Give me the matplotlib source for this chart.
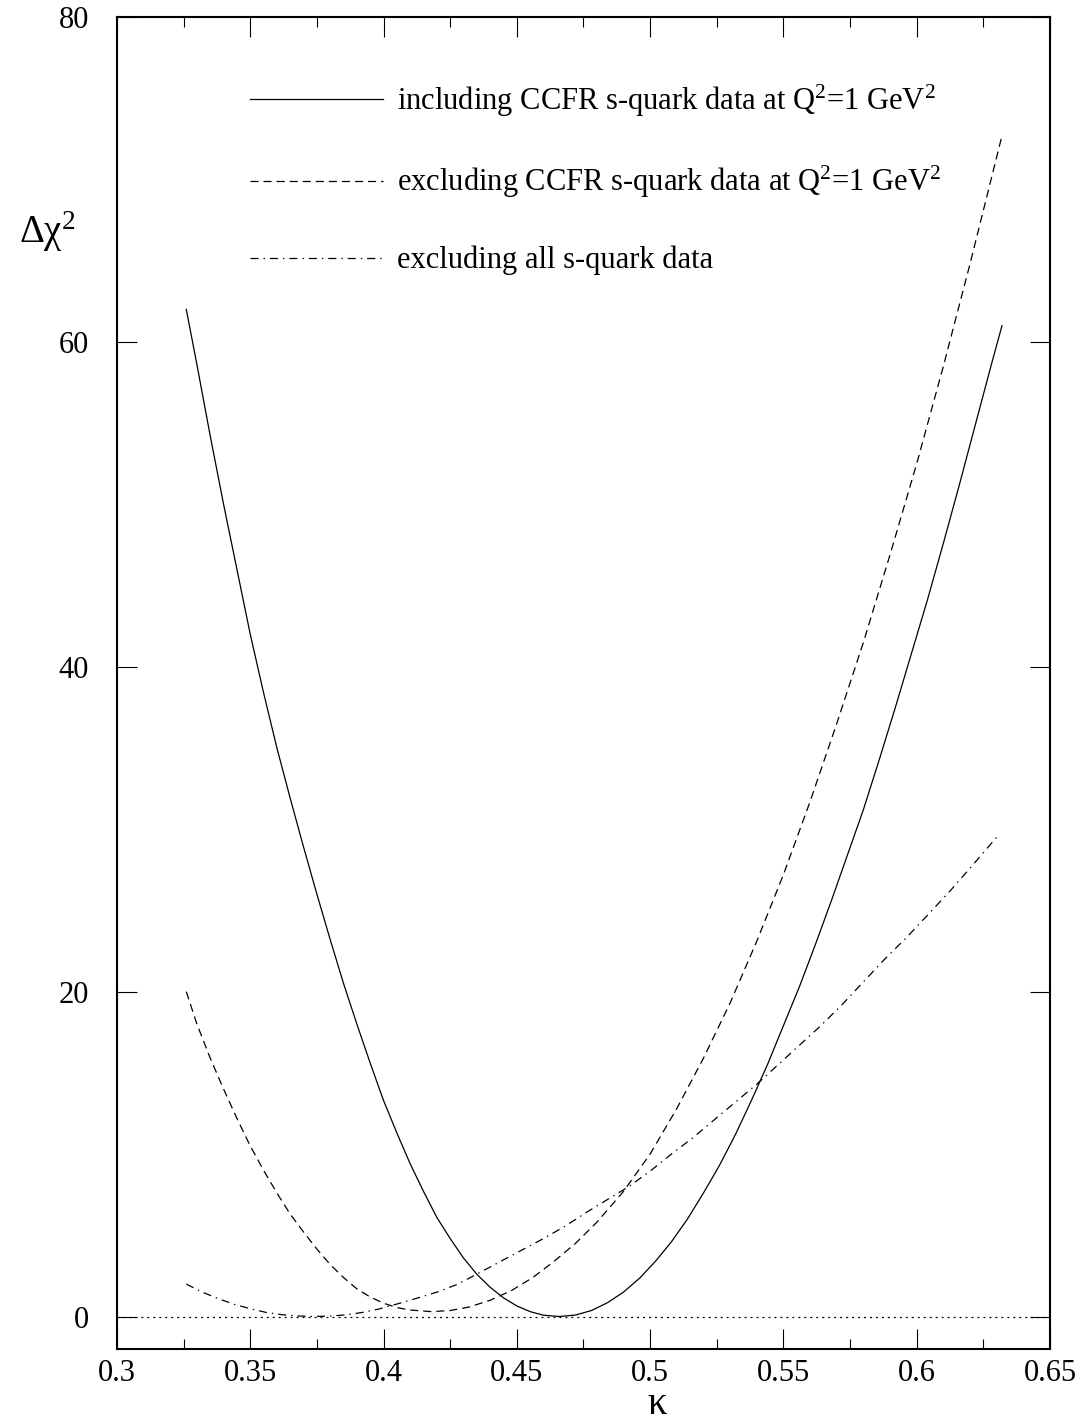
import matplotlib
matplotlib.use('Agg')
from matplotlib import pyplot as plt
from matplotlib.lines import Line2D

# kappa scan, chi^2 difference for the three fits
kappa_incl = [0.326, 0.330, 0.335, 0.340, 0.345, 0.350, 0.355, 0.360, 0.365, 0.370,
              0.375, 0.380, 0.385, 0.390, 0.395, 0.400, 0.405, 0.410, 0.415, 0.420,
              0.425, 0.430, 0.435, 0.440, 0.445, 0.450, 0.455, 0.460, 0.466, 0.472,
              0.478, 0.484, 0.490, 0.496, 0.502, 0.508, 0.514, 0.520, 0.526, 0.532,
              0.538, 0.544, 0.550, 0.556, 0.562, 0.568, 0.574, 0.580, 0.586, 0.592,
              0.598, 0.604, 0.610, 0.616, 0.622, 0.628, 0.632]
chi2_incl = [62.0, 58.6, 54.2, 50.0, 46.0, 42.0, 38.4, 35.0, 31.9, 28.9,
             26.0, 23.2, 20.5, 18.0, 15.6, 13.3, 11.3, 9.4, 7.7, 6.1,
             4.8, 3.6, 2.6, 1.8, 1.15, 0.65, 0.3, 0.08, 0.0, 0.09,
             0.37, 0.85, 1.5, 2.35, 3.4, 4.6, 6.0, 7.6, 9.3, 11.2,
             13.3, 15.5, 17.9, 20.3, 22.9, 25.6, 28.4, 31.2, 34.3, 37.5,
             40.8, 44.1, 47.6, 51.2, 54.9, 58.6, 61.0]

kappa_excl = [0.326, 0.330, 0.335, 0.340, 0.345, 0.350, 0.355, 0.360, 0.365, 0.370,
              0.375, 0.380, 0.385, 0.390, 0.395, 0.400, 0.405, 0.410, 0.418, 0.425,
              0.432, 0.440, 0.448, 0.456, 0.464, 0.472, 0.480, 0.490, 0.500, 0.510,
              0.520, 0.530, 0.540, 0.550, 0.560, 0.570, 0.580, 0.590, 0.600, 0.610,
              0.620, 0.632]
chi2_excl = [20.0, 18.0, 15.9, 14.0, 12.2, 10.5, 9.0, 7.6, 6.3, 5.2,
             4.15, 3.2, 2.4, 1.7, 1.2, 0.82, 0.55, 0.4, 0.3, 0.37,
             0.58, 1.0, 1.6, 2.4, 3.4, 4.5, 5.8, 7.7, 10.0, 12.8,
             15.9, 19.3, 23.1, 27.2, 31.7, 36.5, 41.5, 46.9, 52.5, 58.5,
             64.8, 72.7]

kappa_nos = [0.326, 0.332, 0.338, 0.344, 0.350, 0.356, 0.362, 0.368, 0.374, 0.380,
             0.386, 0.392, 0.398, 0.404, 0.412, 0.420, 0.428, 0.436, 0.444, 0.452,
             0.460, 0.468, 0.476, 0.484, 0.492, 0.500, 0.508, 0.516, 0.524, 0.532,
             0.540, 0.548, 0.556, 0.564, 0.572, 0.580, 0.588, 0.596, 0.604, 0.612,
             0.620, 0.631]
chi2_nos = [2.0, 1.5, 1.1, 0.75, 0.48, 0.25, 0.11, 0.03, 0.0, 0.03,
            0.1, 0.25, 0.45, 0.72, 1.1, 1.5, 2.0, 2.7, 3.4, 4.1,
            4.8, 5.55, 6.4, 7.2, 8.0, 8.95, 10.0, 11.0, 12.1, 13.2,
            14.3, 15.5, 16.7, 17.9, 19.2, 20.6, 22.0, 23.3, 24.7, 26.1,
            27.6, 29.7]

labels = ['including CCFR s-quark data at Q$^2$=1 GeV$^2$',
          'excluding CCFR s-quark data at Q$^2$=1 GeV$^2$',
          'excluding all s-quark data']

xticks = [0.3, 0.35, 0.4, 0.45, 0.5, 0.55, 0.6, 0.65]
xticklabels = ['0.3', '0.35', '0.4', '0.45', '0.5', '0.55', '0.6', '0.65']
xminor = [0.325, 0.375, 0.425, 0.475, 0.525, 0.575, 0.625]
yticks = [0, 20, 40, 60, 80]

plt.rcParams['font.family'] = ['Liberation Serif', 'DejaVu Serif']
plt.rcParams['mathtext.fontset'] = 'custom'
plt.rcParams['mathtext.rm'] = 'Liberation Serif'
plt.rcParams['mathtext.it'] = 'Liberation Serif'
plt.rcParams['mathtext.default'] = 'regular'
plt.rcParams['lines.scale_dashes'] = False

fig = plt.figure(figsize=(10.81, 14.2), dpi=100)
ax = fig.add_axes([0.1082, 0.05, 0.8631, 0.938])

lw = 0.9
dash = (0, (5.8, 3.6))
dashdot = (0, (5.8, 3.6, 1.0, 3.6))

ax.axhline(0, color='black', lw=0.9, linestyle=(0, (1.4, 2.9)))
ax.plot(kappa_incl, chi2_incl, color='black', lw=lw, linestyle='-')
ax.plot(kappa_excl, chi2_excl, color='black', lw=lw, linestyle=dash)
ax.plot(kappa_nos, chi2_nos, color='black', lw=lw, linestyle=dashdot)

ax.set_xlim(0.3, 0.65)
ax.set_ylim(-2, 80)

ax.set_xticks(xticks)
ax.set_xticklabels(xticklabels)
ax.set_xticks(xminor, minor=True)
ax.set_yticks(yticks)
ax.tick_params(axis='both', which='major', direction='in', length=14.4, width=0.8,
               labelsize=22, top=True, right=True)
ax.tick_params(axis='x', which='minor', direction='in', length=7.2, width=0.8,
               top=True, bottom=True)
ax.tick_params(axis='x', which='major', pad=7)
ax.tick_params(axis='y', which='major', pad=20)
for sp in ax.spines.values():
    sp.set_linewidth(1.5)

ax.set_ylabel('$\\Delta\\chi^2$', fontsize=28, rotation=0, ha='center', va='center')
ax.yaxis.set_label_coords(-0.075, 0.839)
ax.set_xlabel('κ', fontsize=28, va='baseline')
ax.xaxis.set_label_coords(0.579, -0.0485)

handles = [Line2D([], [], color='black', lw=lw, linestyle='-'),
           Line2D([], [], color='black', lw=lw, linestyle=dash),
           Line2D([], [], color='black', lw=lw, linestyle=dashdot)]
ax.legend(handles, labels, loc='upper left', bbox_to_anchor=(0.1426, 0.951),
          frameon=False, fontsize=22, handlelength=4.35, handletextpad=0.45,
          labelspacing=1.49, borderpad=0, borderaxespad=0)

fig.savefig('out.png', dpi=100)
